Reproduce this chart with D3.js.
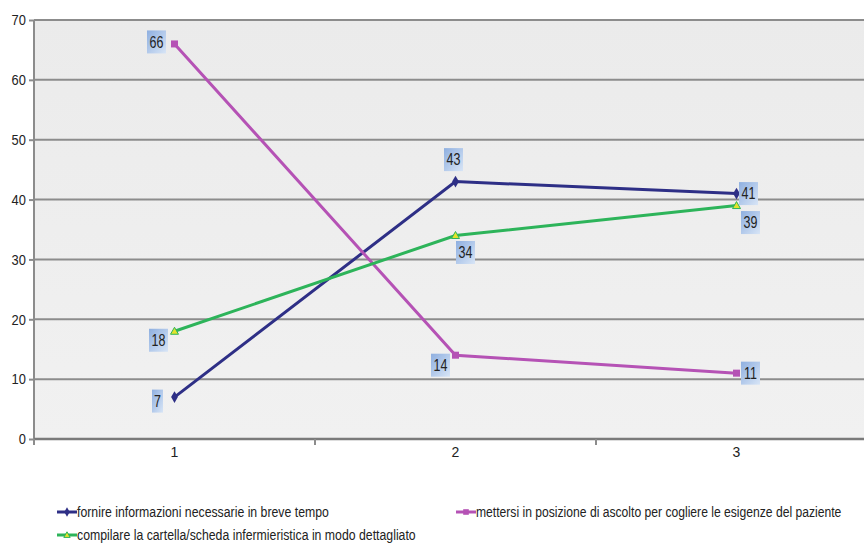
<!DOCTYPE html>
<html>
<head>
<meta charset="utf-8">
<script src="https://cdn.jsdelivr.net/npm/d3@7"></script>
<style>
  html, body { margin: 0; padding: 0; background: #fff; }
  svg { display: block; font-family: "Liberation Sans", Arial, sans-serif; }
</style>
</head>
<body>
<svg id="chart" width="864" height="547"></svg>
<script>
// Categories on the x axis
const categories = ["1", "2", "3"];
// Series names (legend text)
const seriesNames = [
  "fornire informazioni necessarie in breve tempo",
  "mettersi in posizione di ascolto per cogliere le esigenze del paziente",
  "compilare la cartella/scheda infermieristica in modo dettagliato"
];
// Series values
const informazioni = [7, 43, 41];
const ascolto = [66, 14, 11];
const cartella = [18, 34, 39];
// Y axis tick values
const yTicks = [0, 10, 20, 30, 40, 50, 60, 70];

const series = [
  { name: seriesNames[0], values: informazioni, color: "#2e2f86", marker: "diamond",
    labelPos: [[-17, 4], [-2, -22], [12, 0]], legend: [57, 512, 252] },
  { name: seriesNames[1], values: ascolto, color: "#b552b5", marker: "square",
    labelPos: [[-18, -2], [-15, 10], [14, 0]], legend: [456, 512, 366] },
  { name: seriesNames[2], values: cartella, color: "#2db45a", marker: "triangle",
    labelPos: [[-16, 9], [10, 17], [14, 17]], legend: [57, 535, 339] }
];

const svg = d3.select("#chart");
const margin = { left: 34, top: 20, bottom: 439 };
const bandW = 281;
const narrow = "scale(0.86,1)";

const x = d3.scaleBand().domain(categories).range([margin.left, margin.left + bandW * categories.length]);
const y = d3.scaleLinear().domain([0, 70]).range([margin.bottom, margin.top]);

const defs = svg.append("defs");
const bg = defs.append("linearGradient").attr("id", "bgGrad").attr("x1", 0).attr("y1", 0).attr("x2", 0).attr("y2", 1);
bg.append("stop").attr("offset", "0%").attr("stop-color", "#ebebeb");
bg.append("stop").attr("offset", "100%").attr("stop-color", "#f1f1f1");

const lg = defs.append("linearGradient").attr("id", "lblGrad").attr("x1", 0).attr("y1", 0).attr("x2", 1).attr("y2", 1);
lg.append("stop").attr("offset", "0%").attr("stop-color", "#8eafe0");
lg.append("stop").attr("offset", "100%").attr("stop-color", "#d8e5f6");

// Plot area background
svg.append("rect")
  .attr("x", margin.left).attr("y", margin.top)
  .attr("width", 864 - margin.left).attr("height", margin.bottom - margin.top)
  .attr("fill", "url(#bgGrad)");

// Horizontal gridlines
svg.append("g").selectAll("line").data(yTicks.filter(d => d > 0)).join("line")
  .attr("x1", margin.left).attr("x2", 864)
  .attr("y1", d => y(d)).attr("y2", d => y(d))
  .attr("stroke", "#8c8c8c").attr("stroke-width", 2);

// Y axis
const yAxis = svg.append("g").attr("transform", `translate(${margin.left},0)`)
  .call(d3.axisLeft(y).tickValues(yTicks).tickSize(5).tickPadding(0).tickFormat(d3.format("d")));
yAxis.select(".domain").attr("stroke", "#8c8c8c").attr("stroke-width", 2).attr("d", `M0,${margin.top}V${margin.bottom + 4}`);
yAxis.selectAll(".tick line").attr("stroke", "#8c8c8c").attr("stroke-width", 2);
yAxis.selectAll(".tick text").attr("font-size", 15).attr("fill", "#222")
  .attr("x", -9.5).attr("transform", narrow).attr("font-family", "Liberation Sans, Arial, sans-serif");

// X axis
const xAxis = svg.append("g").attr("transform", `translate(0,${margin.bottom})`)
  .call(d3.axisBottom(x).tickSize(0).tickPadding(8));
xAxis.select(".domain").attr("stroke", "#7a7a7a").attr("stroke-width", 2.5).attr("d", `M${margin.left},0H864`);
xAxis.selectAll(".tick text").attr("font-size", 14).attr("fill", "#222").attr("font-family", "Liberation Sans, Arial, sans-serif");
// Band separators
svg.append("g").selectAll("line").data(categories.map(c => x(c))).join("line")
  .attr("x1", d => d).attr("x2", d => d)
  .attr("y1", margin.bottom).attr("y2", margin.bottom + 6)
  .attr("stroke", "#8c8c8c").attr("stroke-width", 2);

const cx = c => x(c) + x.bandwidth() / 2;

function drawMarker(g, type, color, k) {
  if (type === "diamond") {
    g.append("path").attr("d", d3.symbol(d3.symbolDiamond, 40 * k * k)()).attr("fill", color);
  } else if (type === "square") {
    g.append("rect").attr("x", -3.5 * k).attr("y", -3.5 * k).attr("width", 7 * k).attr("height", 7 * k).attr("fill", color);
  } else {
    g.append("path").attr("d", `M0,${-4 * k}L${4 * k},${3 * k}L${-4 * k},${3 * k}Z`)
      .attr("fill", "#e3e32c").attr("stroke", color).attr("stroke-width", 1);
  }
}

const line = d3.line().x((d, i) => cx(categories[i])).y(d => y(d));

series.forEach(s => {
  svg.append("path").datum(s.values)
    .attr("d", line).attr("fill", "none")
    .attr("stroke", s.color).attr("stroke-width", 3);
});

series.forEach(s => {
  s.values.forEach((v, i) => {
    const g = svg.append("g").attr("transform", `translate(${cx(categories[i])},${y(v)})`);
    drawMarker(g, s.marker, s.color, 1);
  });
});

// Data labels
series.forEach(s => {
  s.values.forEach((v, i) => {
    const [dx, dy] = s.labelPos[i];
    const px = cx(categories[i]) + dx, py = y(v) + dy;
    const txt = String(v);
    const w = txt.length === 1 ? 11 : 19, h = 23;
    const g = svg.append("g").attr("transform", `translate(${px},${py})`);
    g.append("rect").attr("x", -w / 2).attr("y", -h / 2).attr("width", w).attr("height", h)
      .attr("fill", "url(#lblGrad)");
    g.append("text").text(txt).attr("text-anchor", "middle").attr("dy", "0.36em")
      .attr("font-size", 16).attr("fill", "#222").attr("transform", "scale(0.78,1)");
  });
});

// Legend: condensed text, squeezed horizontally to the target width
series.forEach(s => {
  const [lx, ly, tw] = s.legend;
  const g = svg.append("g").attr("transform", `translate(${lx},${ly})`);
  g.append("line").attr("x1", 0).attr("x2", 20).attr("y1", 0).attr("y2", 0)
    .attr("stroke", s.color).attr("stroke-width", 3);
  const mg = g.append("g").attr("transform", "translate(10,0)");
  drawMarker(mg, s.marker, s.color, 0.8);
  const tg = g.append("g").attr("transform", "translate(20,0)");
  const t = tg.append("text").text(s.name).attr("dy", "0.36em")
    .attr("font-size", 15).attr("fill", "#222");
  const natural = t.node().getComputedTextLength();
  tg.attr("transform", `translate(20,0) scale(${tw / natural},1)`);
});
</script>
</body>
</html>
